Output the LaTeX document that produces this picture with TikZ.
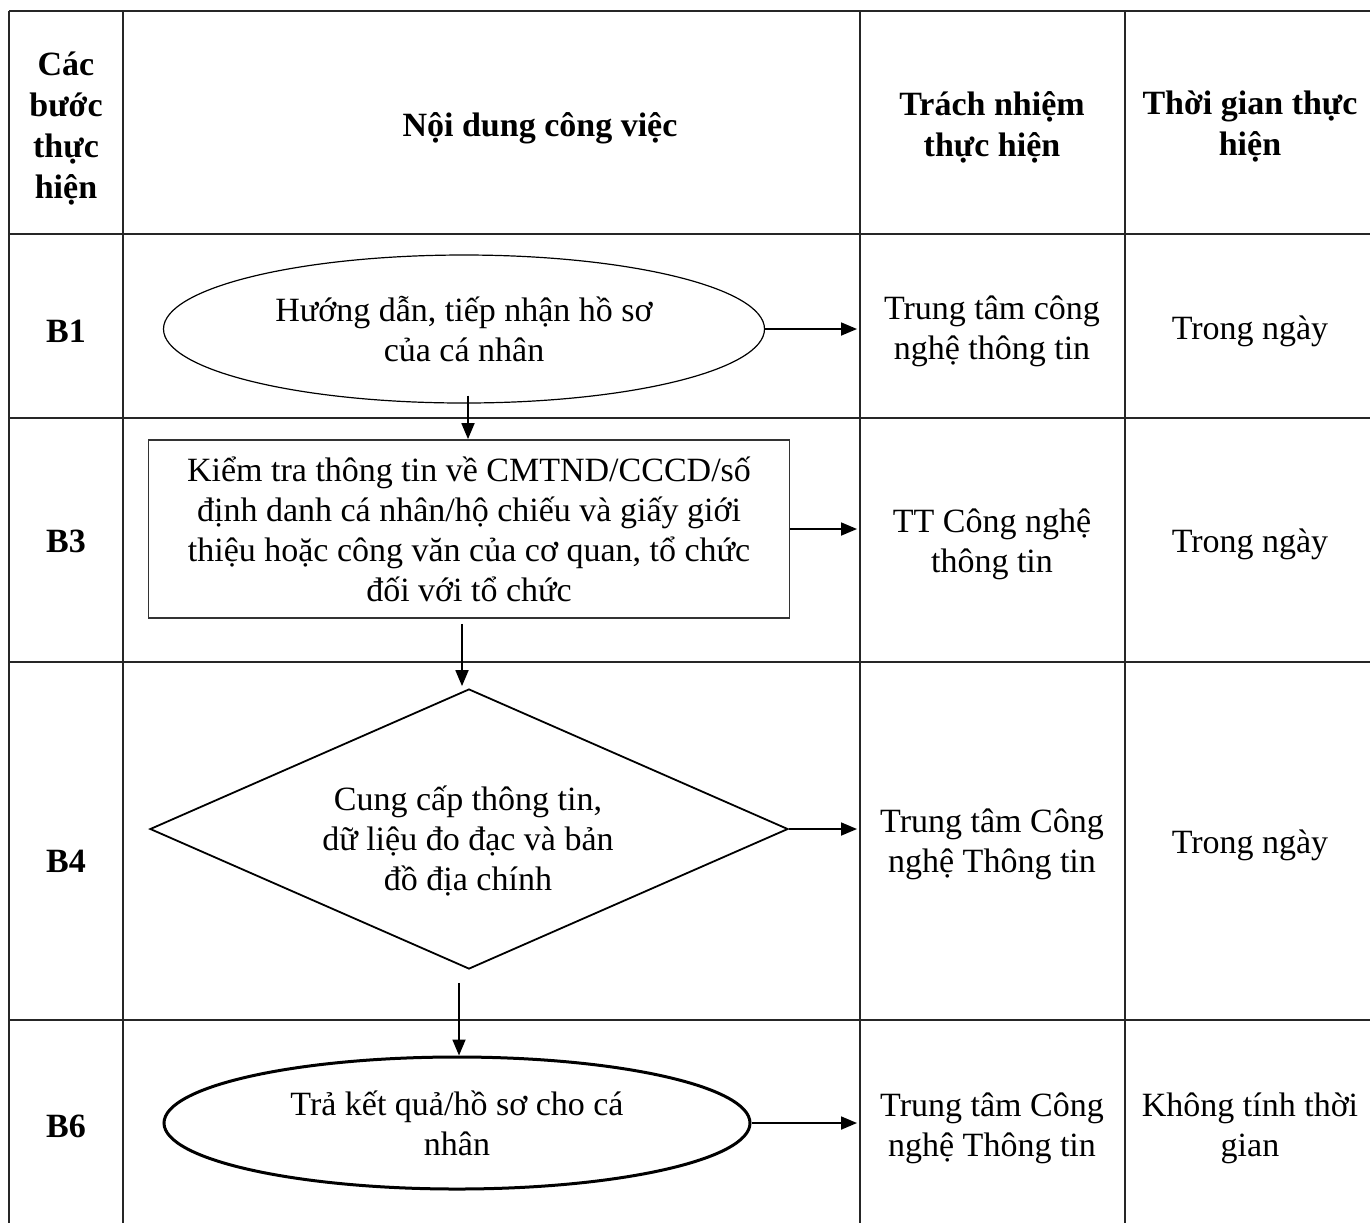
\documentclass[tikz,border=0pt]{standalone}
\usepackage{fontspec}
\setmainfont{Liberation Serif}
\usetikzlibrary{arrows.meta,shapes.geometric,calc}

\tikzset{
  cell/.style={font=\fontsize{17}{20}\selectfont, align=center},
  head/.style={font=\fontsize{17}{20.5}\selectfont\bfseries, align=center},
  arr/.style={-{Triangle[length=8pt,width=6.5pt]}, line width=0.9pt},
  grid/.style={line width=0.9pt, black!85},
}

\begin{document}
\begin{tikzpicture}[x=0.5pt,y=-0.5pt]
\useasboundingbox (0,0) rectangle (1370,1223);
\draw[grid] (9,11) -- (1370,11);
\draw[grid] (9,234) -- (1370,234);
\draw[grid] (9,418) -- (1370,418);
\draw[grid] (9,662) -- (1370,662);
\draw[grid] (9,1020) -- (1370,1020);
\draw[grid] (9,11) -- (9,1223);
\draw[grid] (123,11) -- (123,1223);
\draw[grid] (860,11) -- (860,1223);
\draw[grid] (1125,11) -- (1125,1223);
\coordinate (c3) at (857,0);

\node[head] (h1) at (66,129) {Các\\bước\\thực\\hiện};
\node[head] (h2) at (540,128) {Nội dung công việc};
\node[head] (h3) at (992,127) {Trách nhiệm\\thực hiện};
\node[head] (h4) at (1250,127) {Thời gian thực\\hiện};

\node[head] (s1) at (66,331) {B1};
\node[head] (s3) at (66,541) {B3};
\node[head] (s4) at (66,861) {B4};
\node[head] (s6) at (66,1126) {B6};

\node[cell, draw, ellipse, line width=0.6pt, inner sep=0pt,
  minimum width=300.5pt, minimum height=74pt] (b1) at (464,329)
  {Hướng dẫn, tiếp nhận hồ sơ\\của cá nhân};
\node[cell, draw, rectangle, line width=0.9pt, draw=black!80, inner sep=0pt,
  minimum width=320.5pt, minimum height=89pt] (b3) at (469,529)
  {Kiểm tra thông tin về CMTND/CCCD/số\\định danh cá nhân/hộ chiếu và giấy giới\\thiệu hoặc công văn của cơ quan, tổ chức\\đối với tổ chức};
\node[draw, diamond, aspect=2.28, line width=0.9pt, inner sep=0pt,
  minimum width=319pt, minimum height=140pt] (b4) at (469,829) {};
\node[cell] (b4t) at (468,841) {Cung cấp thông tin,\\dữ liệu đo đạc và bản\\đồ địa chính};
\node[cell, draw, ellipse, line width=1.5pt, inner sep=0pt,
  minimum width=293pt, minimum height=66pt] (b6) at (457,1123)
  {Trả kết quả/hồ sơ cho cá\\nhân};

\node[cell] (t1) at (992,331) {Trung tâm công\\nghệ thông tin};
\node[cell] (t3) at (992,544) {TT Công nghệ\\thông tin};
\node[cell] (t4) at (992,844) {Trung tâm Công\\nghệ Thông tin};
\node[cell] (t6) at (992,1128) {Trung tâm Công\\nghệ Thông tin};

\node[cell] (d1) at (1250,331) {Trong ngày};
\node[cell] (d3) at (1250,544) {Trong ngày};
\node[cell] (d4) at (1250,845) {Trong ngày};
\node[cell] (d6) at (1250,1128) {Không tính thời\\gian};

\draw[arr] (b1.east) -- (b1.east -| c3);
\draw[arr] (b3.east) -- (b3.east -| c3);
\draw[arr] (b4.east) -- (b4.east -| c3);
\draw[arr] (b6.east) -- (b6.east -| c3);
\draw[arr] ([xshift=2pt,yshift=4pt]b1.south) -- ([xshift=2pt]b1.south |- b3.north);
\draw[arr] ([xshift=-3.5pt,yshift=-2.5pt]b3.south) -- ([xshift=-3.5pt,yshift=1pt]b4.north);
\draw[arr] ($(b4.south -| b6.north)+(2,13)$) -- ([xshift=1pt]b6.north);
\end{tikzpicture}
\end{document}
